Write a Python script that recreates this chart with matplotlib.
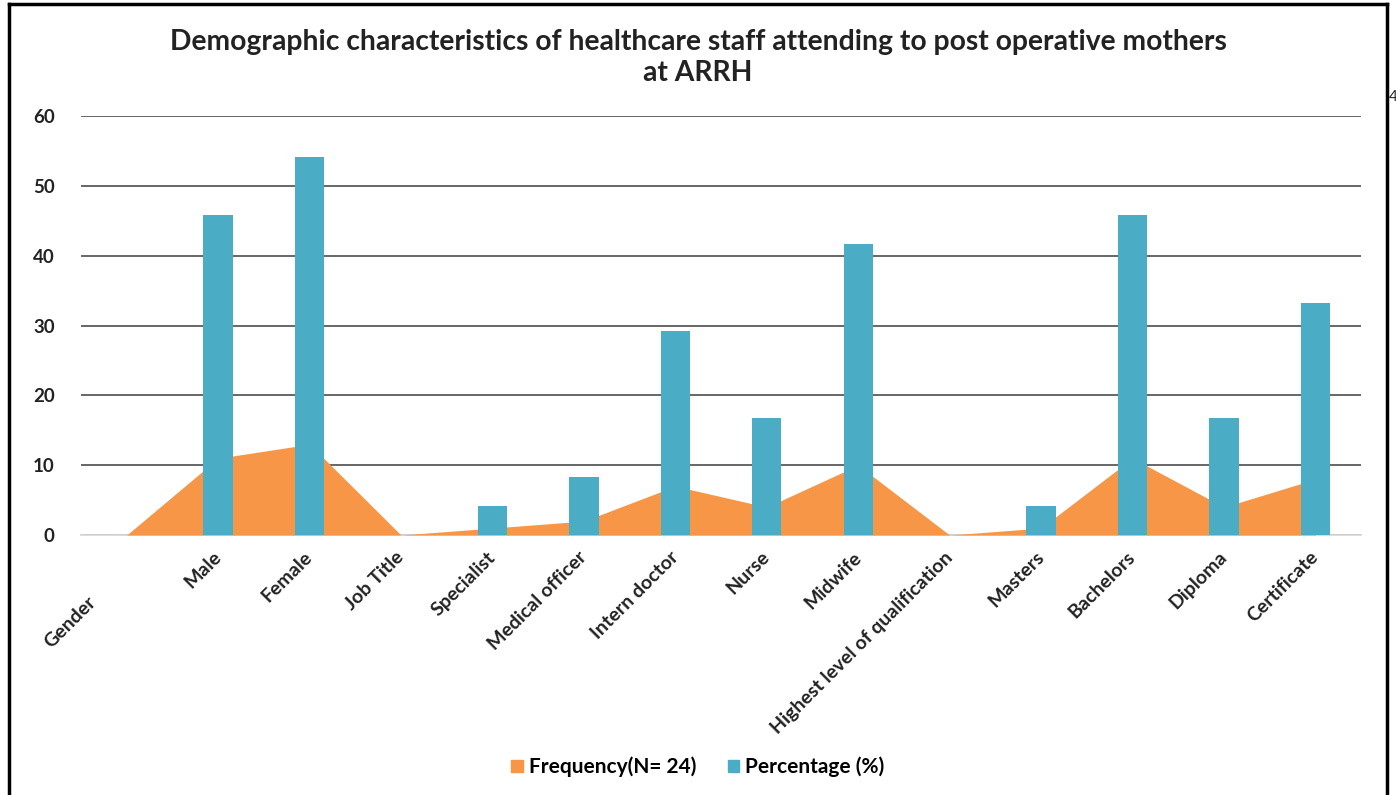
import matplotlib.pyplot as plt
import numpy as np
from matplotlib.patches import Patch

categories = [
    "Gender", "Male", "Female", "Job Title", "Specialist", "Medical officer",
    "Intern doctor", "Nurse", "Midwife", "Highest level of qualification",
    "Masters", "Bachelors", "Diploma", "Certificate",
]
frequency = [0, 11, 13, 0, 1, 2, 7, 4, 10, 0, 1, 11, 4, 8]
percentage = [0, 45.8, 54.2, 0, 4.2, 8.3, 29.2, 16.7, 41.7, 0, 4.2, 45.8, 16.7, 33.3]

ORANGE = "#F79646"
BLUE = "#4BACC6"

plt.rcParams["font.family"] = ["Lato", "DejaVu Sans"]
plt.rcParams["font.weight"] = "bold"

fig = plt.figure(figsize=(13.96, 7.95), dpi=100)
ax = fig.add_axes([0.058, 0.327, 0.917, 0.527])

x = np.arange(len(categories))
pct = np.array(percentage)
has_bar = pct > 0

ax.fill_between(x, frequency, 0, color=ORANGE, linewidth=0, zorder=2)
ax.bar(x[has_bar], pct[has_bar], width=0.32, color=BLUE, zorder=3)

ax.set_xlim(-0.5, len(categories) - 0.5)
ax.set_ylim(0, 60)
ax.set_yticks(range(0, 61, 10))
ax.yaxis.grid(True, color="#5a5a5a", linewidth=1.3, zorder=1)
ax.set_axisbelow(True)
for side in ["top", "right", "left"]:
    ax.spines[side].set_visible(False)
ax.spines["bottom"].set_color("#d9d9d9")
ax.spines["bottom"].set_linewidth(1.3)
ax.spines["bottom"].set_zorder(1)
ax.tick_params(axis="both", length=0, labelsize=13.5, colors="#222222")
ax.tick_params(axis="y", pad=19)

# first label sits lower-left of its slot, the rest hang from the tick
ax.set_xticks(x)
ax.set_xticklabels([""] + categories[1:], rotation=45, ha="right", va="center",
                   rotation_mode="anchor", fontsize=14)
ax.tick_params(axis="x", pad=14)
ax.annotate(categories[0], xy=(x[0], 0), xycoords=("data", "axes fraction"),
            xytext=(-24, -46), textcoords="offset points", rotation=45,
            ha="right", va="center", rotation_mode="anchor", fontsize=14,
            fontweight="bold", color="#222222", annotation_clip=False)

fig.text(0.5, 0.928, "Demographic characteristics of healthcare staff attending to post operative mothers\nat ARRH",
         ha="center", va="center", fontsize=20.3, fontweight="bold",
         color="#222222", linespacing=1.25)

handles = [Patch(color=ORANGE, label="Frequency(N= 24)"),
           Patch(color=BLUE, label="Percentage (%)")]
fig.legend(handles=handles, loc="center", bbox_to_anchor=(0.5, 0.035), ncol=2,
           frameon=False, fontsize=15, handlelength=0.55, handleheight=0.55,
           handletextpad=0.3, columnspacing=1.5)

# outer frame (left, top, right)
frame_kw = dict(color="black", linewidth=2.5, transform=fig.transFigure)
fig.add_artist(plt.Line2D([0.0065, 0.0065], [0.0, 0.995], **frame_kw))
fig.add_artist(plt.Line2D([0.0065, 0.9935], [0.995, 0.995], **frame_kw))
fig.add_artist(plt.Line2D([0.9935, 0.9935], [0.0, 0.995], **frame_kw))
fig.text(0.9946, 0.878, "4", fontsize=11, fontweight="normal", color="#222222",
         ha="left", va="center")

fig.savefig("out.png", dpi=100, facecolor="white")
